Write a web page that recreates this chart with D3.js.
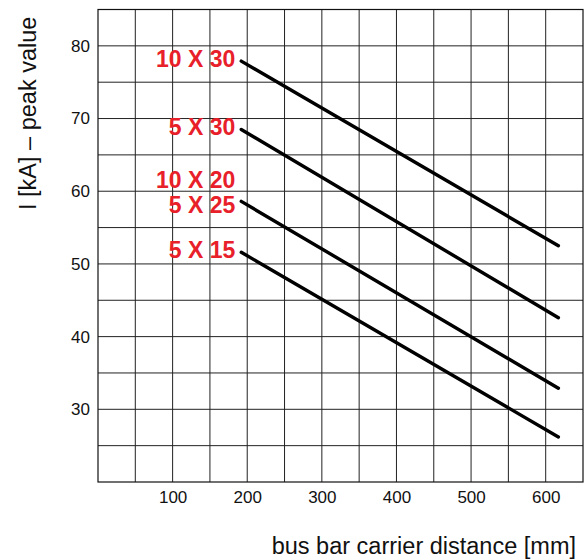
<!DOCTYPE html>
<html lang="en">
<head>
    <meta charset="UTF-8">
    <title>Peak current vs carrier distance</title>
    <script src="https://cdn.jsdelivr.net/npm/d3@7"></script>
    <style>
        body { margin: 0; background: #fff; }
        text { font-family: "Liberation Sans", Arial, sans-serif; }
    </style>
</head>
<body>
    <svg width="584" height="560"></svg>
    <script>
        // data
        var labels = [["10 X 30"], ["5 X 30"], ["10 X 20", "5 X 25"], ["5 X 15"]];
        var distStart = 192, distEnd = 617;
        var peakStart = [77.9, 68.5, 58.6, 51.6];
        var peakEnd = [52.5, 42.6, 32.9, 26.2];
        var xTicks = [100, 200, 300, 400, 500, 600];
        var yTicks = [30, 40, 50, 60, 70, 80];

        var marge = {top: 9.5, bottom: 78, left: 98, right: 1};
        var svg = d3.select("svg");
        var width = +svg.attr("width") - marge.left - marge.right;
        var height = +svg.attr("height") - marge.top - marge.bottom;
        var g = svg.append("g")
            .attr("transform", "translate(" + marge.left + "," + marge.top + ")");

        var xScale = d3.scaleLinear().domain([0, 650]).range([0, width]);
        var yScale = d3.scaleLinear().domain([20, 85]).range([height, 0]);

        // grid every 50 mm / 5 kA
        g.append("g")
            .selectAll("line")
            .data(d3.range(50, 650, 50))
            .enter().append("line")
            .attr("x1", function(d){ return xScale(d); })
            .attr("x2", function(d){ return xScale(d); })
            .attr("y1", 0).attr("y2", height)
            .attr("stroke", "#222").attr("stroke-width", 1);
        g.append("g")
            .selectAll("line")
            .data(d3.range(25, 85, 5))
            .enter().append("line")
            .attr("y1", function(d){ return yScale(d); })
            .attr("y2", function(d){ return yScale(d); })
            .attr("x1", 0).attr("x2", width)
            .attr("stroke", "#222").attr("stroke-width", 1);
        g.append("rect")
            .attr("width", width).attr("height", height)
            .attr("fill", "none").attr("stroke", "#111").attr("stroke-width", 1.2);

        // axes (ticks as text only)
        var xAxis = g.append("g")
            .attr("transform", "translate(0," + height + ")")
            .call(d3.axisBottom(xScale).tickValues(xTicks).tickSize(0).tickPadding(9));
        var yAxis = g.append("g")
            .call(d3.axisLeft(yScale).tickValues(yTicks).tickSize(0).tickPadding(8));
        [xAxis, yAxis].forEach(function(a){
            a.select(".domain").remove();
            a.selectAll("text")
                .attr("font-size", 17)
                .attr("font-family", "Liberation Sans, Arial, sans-serif")
                .attr("fill", "#111");
        });

        // lines
        var line = d3.line()
            .x(function(d){ return xScale(d[0]); })
            .y(function(d){ return yScale(d[1]); });
        g.selectAll(".curve")
            .data(peakStart)
            .enter().append("path")
            .attr("class", "curve")
            .attr("d", function(d, i){ return line([[distStart, d], [distEnd, peakEnd[i]]]); })
            .attr("fill", "none")
            .attr("stroke", "#000")
            .attr("stroke-width", 3.4)
            .attr("stroke-linecap", "round");

        // red labels
        labels.forEach(function(ls, i){
            ls.forEach(function(t, k){
                var dy = ls.length > 1 ? 12 - (ls.length - 1 - k) * 25 : 6;
                g.append("text")
                    .attr("x", xScale(distStart) - 6)
                    .attr("y", yScale(peakStart[i]) + dy)
                    .attr("text-anchor", "end")
                    .attr("font-size", 23)
                    .attr("font-weight", "bold")
                    .attr("fill", "#e8202a")
                    .text(t);
            });
        });

        // axis titles
        svg.append("text")
            .attr("x", 576)
            .attr("y", 554)
            .attr("text-anchor", "end")
            .attr("font-size", 23.5)
            .attr("fill", "#111")
            .text("bus bar carrier distance [mm]");
        svg.append("text")
            .attr("transform", "translate(35.5,210) rotate(-90)")
            .attr("text-anchor", "start")
            .attr("font-size", 23.5)
            .attr("fill", "#111")
            .text("I [kA] \u2013 peak value");
    </script>
</body>
</html>
